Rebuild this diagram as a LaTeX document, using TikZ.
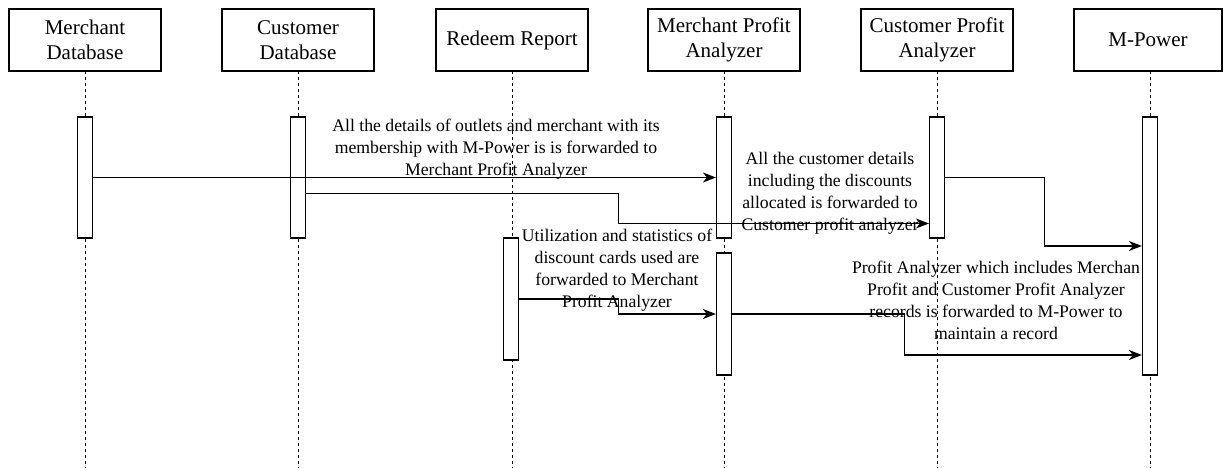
\documentclass[tikz,border=0pt]{standalone}
\usepackage{fontspec}
\setmainfont{Liberation Serif}
\usetikzlibrary{positioning,arrows.meta}

\begin{document}
\begin{tikzpicture}[x=1pt,y=-1pt,actor/.style={draw, line width=1.2pt, minimum width=152pt, minimum height=62pt, align=center, font=\rmfamily\fontsize{21}{25}\selectfont},bar/.style={draw, fill=white, line width=1.2pt, minimum width=15pt, inner sep=0pt},life/.style={dash pattern=on 3pt off 3pt, line width=0.9pt},msg/.style={line width=1.2pt, -{Stealth[length=13pt,width=10pt,inset=4pt]}},note/.style={align=center, inner sep=0pt, font=\rmfamily\fontsize{17.7}{22}\selectfont}]
\useasboundingbox (0,0) rectangle (1223,468);
\coordinate (bottom) at (0,468);
\node[actor] (md) at (85,40) {Merchant\\Database};
\node[actor] (cd) at (298,40) {Customer\\Database};
\node[actor] (rr) at (512,40) {Redeem Report};
\node[actor] (mpa) at (724,40) {Merchant Profit\\Analyzer};
\node[actor] (cpa) at (937,40) {Customer Profit\\Analyzer};
\node[actor, minimum width=148pt] (mp) at (1148,40) {M-Power};
\foreach \n/\x in {md/85,cd/298,rr/512,mpa/724,cpa/937,mp/1150}
  \draw[life] (\x,71) -- (\x,468);
\node[bar, minimum height=121pt] (mdb) at (85,177.5) {};
\node[bar, minimum height=121pt] (cdb) at (298,177.5) {};
\node[bar, minimum height=122pt] (rrb) at (511,299) {};
\node[bar, minimum height=121pt] (mpa1) at (724,177.5) {};
\node[bar, minimum height=122pt] (mpa2) at (724,314) {};
\node[bar, minimum height=121pt] (cpab) at (937,177.5) {};
\node[bar, minimum height=258pt] (mpb) at (1150,246) {};
\draw[msg] (mdb.east) -- (mpa1.west);
\draw[msg] ([yshift=-16pt]cdb.east) -- ++(312,0) |- ([yshift=-46pt]cpab.west);
\draw[msg] (cpab.east) -- ++(99,0) |- (mpb.west);
\draw[msg] (rrb.east) -- ++(99,0) |- (mpa2.west);
\draw[msg] (mpa2.east) -- ++(172,0) |- ([yshift=-109pt]mpb.west);
\node[note] (l1) at (496,149) {All the details of outlets and merchant with its\\membership with M-Power is is forwarded to\\Merchant Profit Analyzer};
\node[note] (l2) at (830,193.5) {All the customer details\\including the discounts\\allocated is forwarded to\\Customer profit analyzer};
\node[note] (l3) at (617,270) {Utilization and statistics of\\discount cards used are\\forwarded to Merchant\\Profit Analyzer};
\node[note] (l4) at (996,300) {Profit Analyzer which includes Merchan\\Profit and Customer Profit Analyzer\\records is forwarded to M-Power to\\maintain a record};
\end{tikzpicture}
\end{document}
